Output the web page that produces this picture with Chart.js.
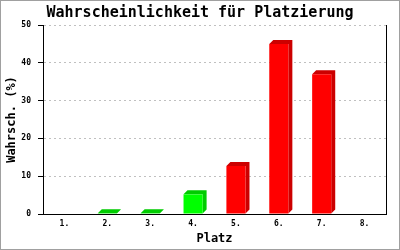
<!DOCTYPE html>
<html>
<head>
<meta charset="utf-8">
<script src="https://cdn.jsdelivr.net/npm/chart.js@4/dist/chart.umd.min.js"></script>
<style>
  html, body { margin: 0; padding: 0; background: #fff; }
  #wrap { width: 400px; height: 250px; }
</style>
</head>
<body>
<div id="wrap"><canvas id="c" width="400" height="250"></canvas></div>
<script>
// Wahrscheinlichkeit je Platz, 3D-Balken wie im Original
const places = ['1.', '2.', '3.', '4.', '5.', '6.', '7.', '8.'];
const probs = [0, 0.2, 0.2, 5.2, 12.7, 45.0, 37.0, 0];
const barColors = ['#00ff00', '#00ff00', '#00ff00', '#00ff00', '#ff0000', '#ff0000', '#ff0000', '#ff0000'];
const sideColors = ['#00cc00', '#00cc00', '#00cc00', '#00cc00', '#cc0000', '#cc0000', '#cc0000', '#cc0000'];
const yTicks = [0, 10, 20, 30, 40, 50];

const MONO = '"DejaVu Sans Mono", "Liberation Mono", monospace';
const DEPTH = 4;

// top + side faces drawn behind the front face
const bars3d = {
  id: 'bars3d',
  beforeDatasetsDraw(chart) {
    const ctx = chart.ctx;
    chart.getDatasetMeta(0).data.forEach((bar, i) => {
      if (!probs[i]) return;
      const { x, y, base, width } = bar.getProps(['x', 'y', 'base', 'width'], true);
      const l = x - width / 2, r = x + width / 2;
      ctx.save();
      ctx.fillStyle = sideColors[i];
      ctx.beginPath();
      ctx.moveTo(l, y);
      ctx.lineTo(l + DEPTH, y - DEPTH);
      ctx.lineTo(r + DEPTH, y - DEPTH);
      ctx.lineTo(r + DEPTH, base - DEPTH);
      ctx.lineTo(r, base);
      ctx.lineTo(r, y);
      ctx.closePath();
      ctx.fill();
      ctx.restore();
    });
  }
};

const frame = {
  id: 'frame',
  afterDraw(chart) {
    const ctx = chart.ctx;
    ctx.save();
    ctx.strokeStyle = '#a0a0a0';
    ctx.lineWidth = 1;
    ctx.strokeRect(0.5, 0.5, chart.width - 1, chart.height - 1);
    ctx.restore();
  }
};

new Chart(document.getElementById('c').getContext('2d'), {
  type: 'bar',
  data: {
    labels: places,
    datasets: [{
      data: probs,
      backgroundColor: barColors,
      borderWidth: 0,
      categoryPercentage: 1,
      barPercentage: 0.445
    }]
  },
  options: {
    responsive: false,
    animation: false,
    layout: { padding: 0 },
    plugins: {
      legend: { display: false },
      tooltip: { enabled: false },
      title: {
        display: true,
        text: 'Wahrscheinlichkeit für Platzierung',
        color: '#000',
        font: { family: MONO, size: 15, weight: 'bold', lineHeight: 1.2 },
        padding: { top: 4, bottom: 3 }
      }
    },
    scales: {
      x: {
        grid: { display: false, drawTicks: false },
        border: { color: '#000', width: 1 },
        ticks: { color: '#000', padding: 5, font: { family: MONO, size: 8, weight: 'bold' } },
        title: {
          display: true, text: 'Platz', color: '#000',
          font: { family: MONO, size: 12, weight: 'bold', lineHeight: 1.2 },
          padding: { top: 0, bottom: 4 }
        },
        afterFit: s => { s.height = 36; }
      },
      y: {
        min: 0, max: 50,
        afterBuildTicks: s => { s.ticks = yTicks.map(v => ({ value: v })); },
        grid: {
          color: c => (c.tick && c.tick.value === 0 ? 'rgba(0,0,0,0)' : '#c0c0c0'),
          tickColor: '#000',
          tickLength: 5,
          lineWidth: 1
        },
        border: { color: '#000', width: 1, dash: [2, 3] },
        ticks: { color: '#000', padding: 7, font: { family: MONO, size: 8, weight: 'bold' } },
        title: {
          display: true, text: 'Wahrsch. (%)', color: '#000',
          font: { family: MONO, size: 12, weight: 'bold', lineHeight: 1.2 },
          padding: { top: 5, bottom: 0 }
        },
        afterFit: s => { s.width = 43; }
      },
      y2: {
        position: 'right',
        min: 0, max: 50,
        grid: { drawOnChartArea: false, drawTicks: false },
        border: { color: '#000', width: 1 },
        ticks: { display: false },
        afterFit: s => { s.width = 14; }
      }
    }
  },
  plugins: [bars3d, frame]
});
</script>
</body>
</html>
